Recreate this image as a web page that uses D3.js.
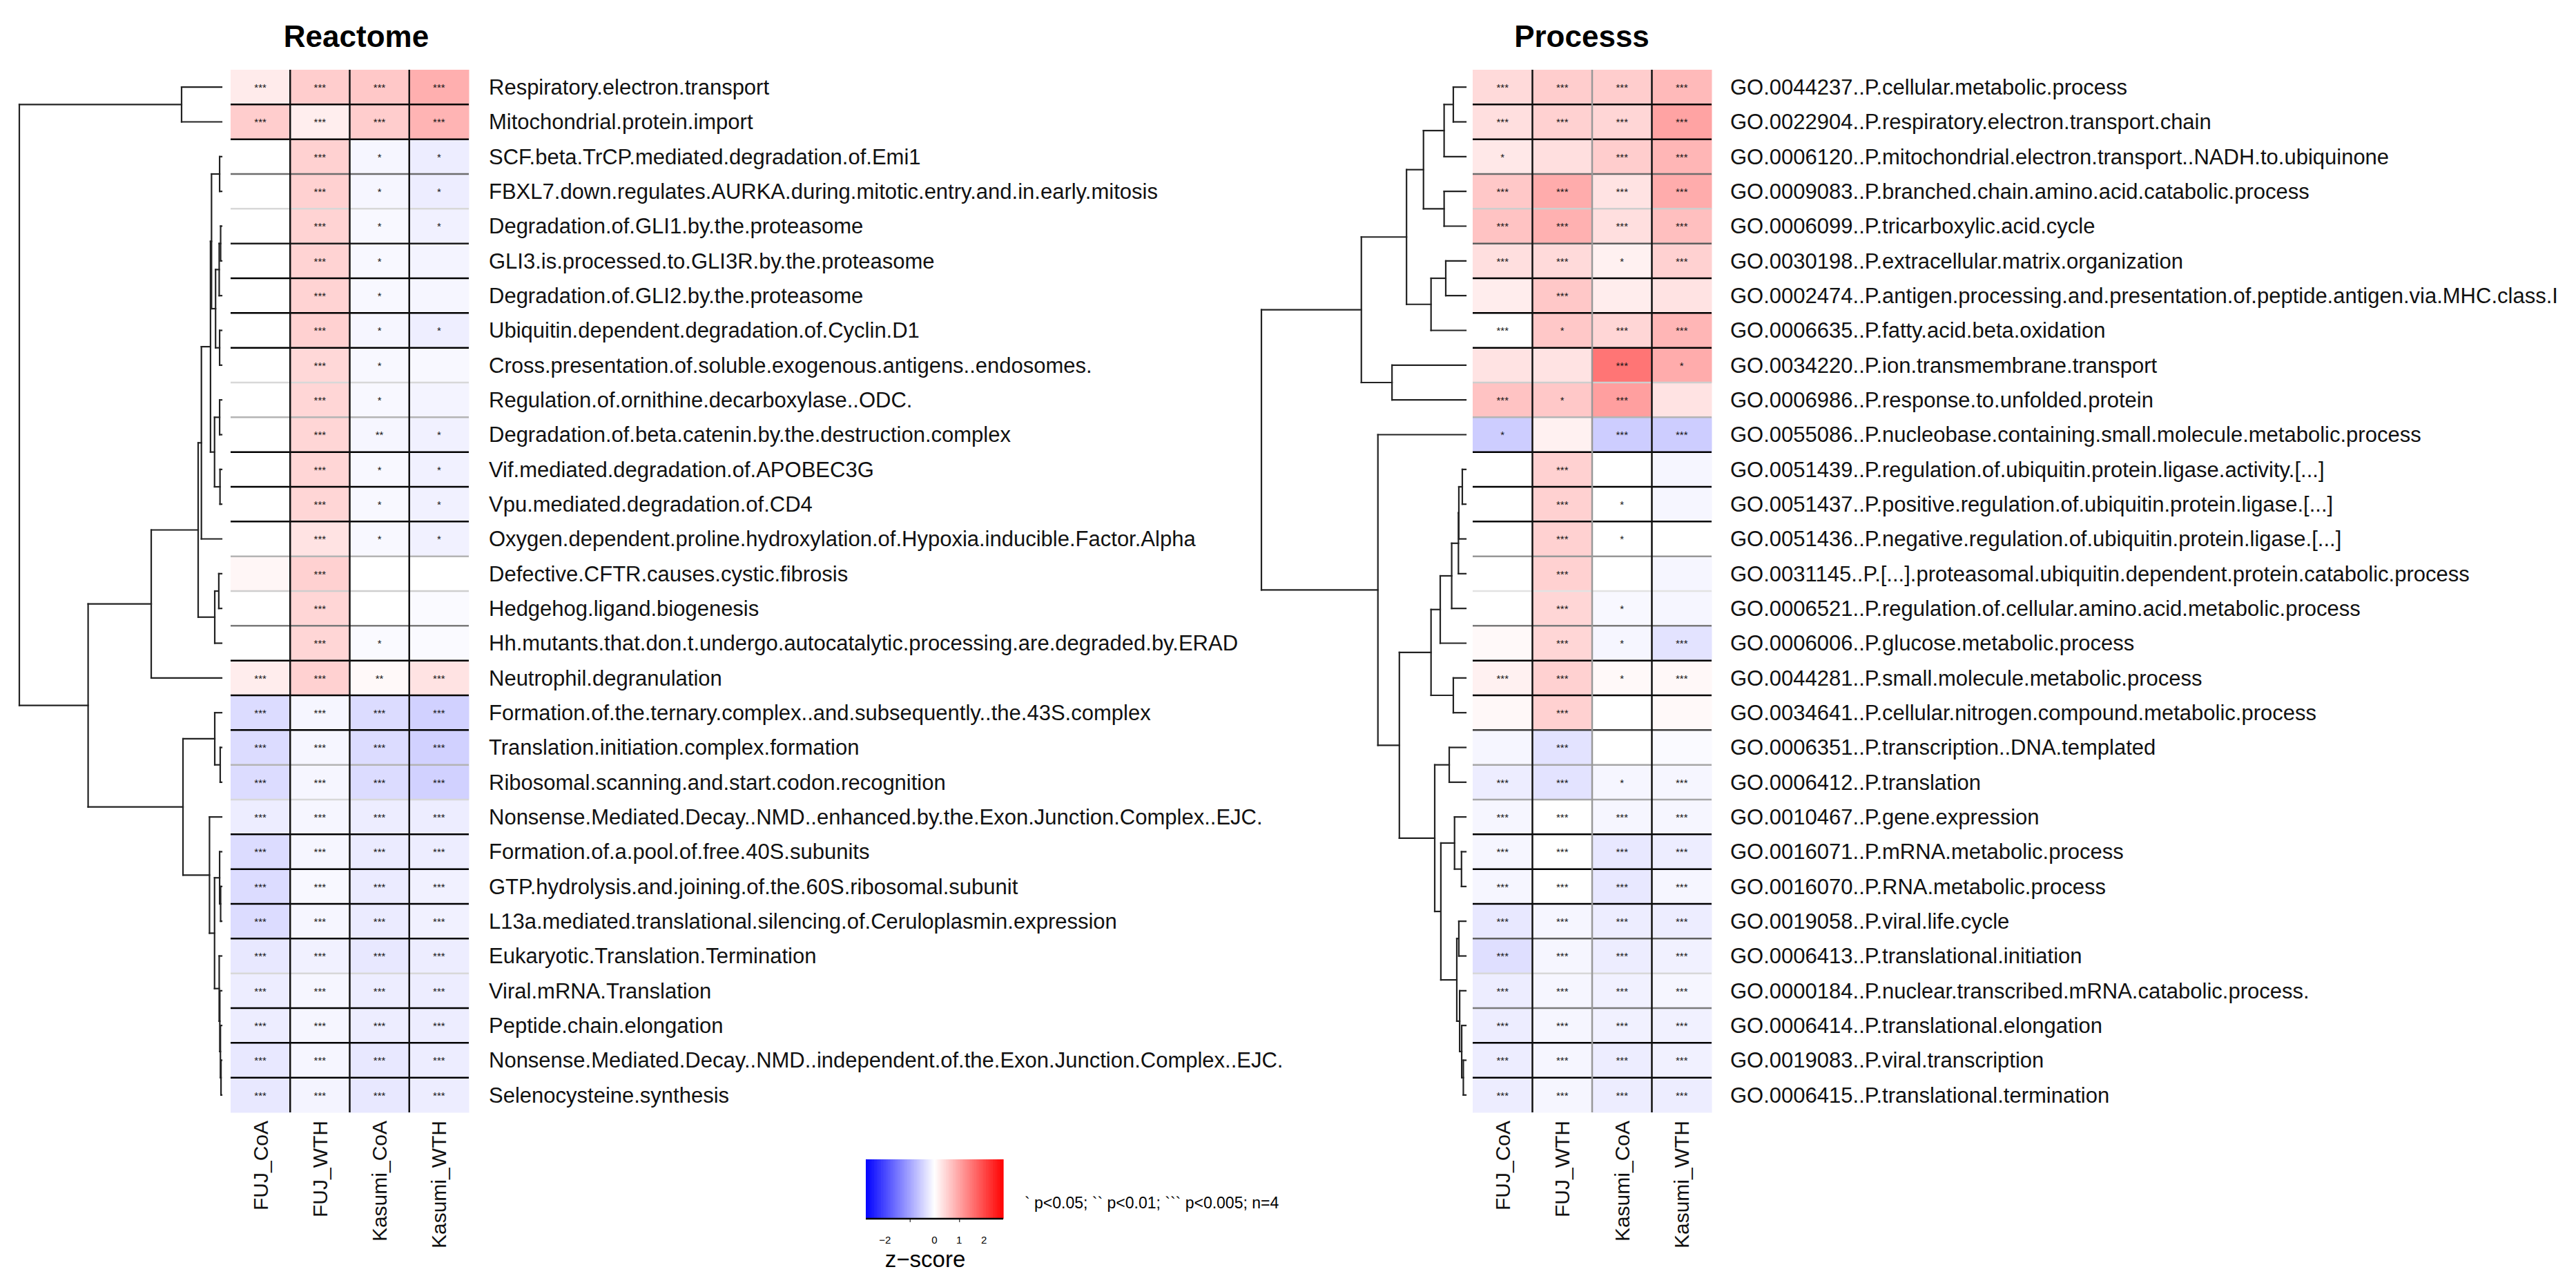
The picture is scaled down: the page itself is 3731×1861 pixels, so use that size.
<!DOCTYPE html>
<html>
<head>
<meta charset="utf-8">
<script src="https://cdn.jsdelivr.net/npm/d3@7"></script>
<style>
  body { margin: 0; background: #fff; }
  text { font-family: "Liberation Sans", Arial, sans-serif; }
</style>
</head>
<body>
<div id="chart"></div>
<script>
var samples = ["FUJ_CoA", "FUJ_WTH", "Kasumi_CoA", "Kasumi_WTH"];

var reactomeTerms = [
  "Respiratory.electron.transport",
  "Mitochondrial.protein.import",
  "SCF.beta.TrCP.mediated.degradation.of.Emi1",
  "FBXL7.down.regulates.AURKA.during.mitotic.entry.and.in.early.mitosis",
  "Degradation.of.GLI1.by.the.proteasome",
  "GLI3.is.processed.to.GLI3R.by.the.proteasome",
  "Degradation.of.GLI2.by.the.proteasome",
  "Ubiquitin.dependent.degradation.of.Cyclin.D1",
  "Cross.presentation.of.soluble.exogenous.antigens..endosomes.",
  "Regulation.of.ornithine.decarboxylase..ODC.",
  "Degradation.of.beta.catenin.by.the.destruction.complex",
  "Vif.mediated.degradation.of.APOBEC3G",
  "Vpu.mediated.degradation.of.CD4",
  "Oxygen.dependent.proline.hydroxylation.of.Hypoxia.inducible.Factor.Alpha",
  "Defective.CFTR.causes.cystic.fibrosis",
  "Hedgehog.ligand.biogenesis",
  "Hh.mutants.that.don.t.undergo.autocatalytic.processing.are.degraded.by.ERAD",
  "Neutrophil.degranulation",
  "Formation.of.the.ternary.complex..and.subsequently..the.43S.complex",
  "Translation.initiation.complex.formation",
  "Ribosomal.scanning.and.start.codon.recognition",
  "Nonsense.Mediated.Decay..NMD..enhanced.by.the.Exon.Junction.Complex..EJC.",
  "Formation.of.a.pool.of.free.40S.subunits",
  "GTP.hydrolysis.and.joining.of.the.60S.ribosomal.subunit",
  "L13a.mediated.translational.silencing.of.Ceruloplasmin.expression",
  "Eukaryotic.Translation.Termination",
  "Viral.mRNA.Translation",
  "Peptide.chain.elongation",
  "Nonsense.Mediated.Decay..NMD..independent.of.the.Exon.Junction.Complex..EJC.",
  "Selenocysteine.synthesis"
];

// z-scores, one row per term, columns in the order of samples
var reactomeZ = [
  [0.22, 0.55, 0.6, 0.87], [0.55, 0.19, 0.55, 0.82],
  [0, 0.5, -0.1, -0.2], [0, 0.5, -0.1, -0.2], [0, 0.48, -0.08, -0.15],
  [0, 0.48, -0.08, -0.12], [0, 0.48, -0.08, -0.1], [0, 0.5, -0.1, -0.18],
  [0, 0.42, -0.08, -0.08], [0, 0.45, -0.08, -0.12], [0, 0.45, -0.1, -0.15],
  [0, 0.45, -0.08, -0.15], [0, 0.45, -0.08, -0.15], [0, 0.3, -0.08, -0.15],
  [0.1, 0.5, 0, 0], [0, 0.45, 0, -0.05], [0, 0.45, -0.05, -0.05],
  [0.2, 0.5, 0.07, 0.3],
  [-0.38, -0.1, -0.38, -0.5], [-0.38, -0.1, -0.38, -0.5], [-0.38, -0.1, -0.38, -0.5],
  [-0.2, -0.1, -0.2, -0.2], [-0.38, -0.1, -0.22, -0.2], [-0.38, -0.08, -0.22, -0.15],
  [-0.38, -0.1, -0.22, -0.15], [-0.25, -0.15, -0.25, -0.2], [-0.2, -0.1, -0.2, -0.2],
  [-0.2, -0.1, -0.2, -0.2], [-0.25, -0.1, -0.25, -0.2], [-0.25, -0.12, -0.25, -0.2]
];

// number of significance marks per cell
var reactomeStars = [
  [3,3,3,3],[3,3,3,3],[0,3,1,1],[0,3,1,1],[0,3,1,1],[0,3,1,0],[0,3,1,0],[0,3,1,1],
  [0,3,1,0],[0,3,1,0],[0,3,2,1],[0,3,1,1],[0,3,1,1],[0,3,1,1],[0,3,0,0],[0,3,0,0],
  [0,3,1,0],[3,3,2,3],[3,3,3,3],[3,3,3,3],[3,3,3,3],[3,3,3,3],[3,3,3,3],[3,3,3,3],
  [3,3,3,3],[3,3,3,3],[3,3,3,3],[3,3,3,3],[3,3,3,3],[3,3,3,3]
];

// row dendrograms: [left, right, height]; plain numbers are row indices
var reactomeMito = [0, 1, 1.98];
var reactomeProteasome = [
  [[[2, 3, 0.1], [[[4, 5, 0.05], 6, 0.12], [7, 8, 0.1], 0.3], 0.5],
   [[9, 10, 0.1], [11, 12, 0.08], 0.35], 0.55],
  13, 1.0
];
var reactomeHedgehog = [[14, 15, 0.14], 16, 0.34];
var reactomeTranslation = [
  [18, [19, 20, 0.07], 0.34],
  [21, [[22, [23, 24, 0.05], 0.1], [25, [26, [27, [28, 29, 0.03], 0.06], 0.09], 0.12], 0.35], 0.6],
  1.91
];
var reactomeTree = [
  reactomeMito,
  [[[reactomeProteasome, reactomeHedgehog, 1.16], 17, 3.48], reactomeTranslation, 6.6],
  10
];

var processTerms = [
  "GO.0044237..P.cellular.metabolic.process",
  "GO.0022904..P.respiratory.electron.transport.chain",
  "GO.0006120..P.mitochondrial.electron.transport..NADH.to.ubiquinone",
  "GO.0009083..P.branched.chain.amino.acid.catabolic.process",
  "GO.0006099..P.tricarboxylic.acid.cycle",
  "GO.0030198..P.extracellular.matrix.organization",
  "GO.0002474..P.antigen.processing.and.presentation.of.peptide.antigen.via.MHC.class.I",
  "GO.0006635..P.fatty.acid.beta.oxidation",
  "GO.0034220..P.ion.transmembrane.transport",
  "GO.0006986..P.response.to.unfolded.protein",
  "GO.0055086..P.nucleobase.containing.small.molecule.metabolic.process",
  "GO.0051439..P.regulation.of.ubiquitin.protein.ligase.activity.[...]",
  "GO.0051437..P.positive.regulation.of.ubiquitin.protein.ligase.[...]",
  "GO.0051436..P.negative.regulation.of.ubiquitin.protein.ligase.[...]",
  "GO.0031145..P.[...].proteasomal.ubiquitin.dependent.protein.catabolic.process",
  "GO.0006521..P.regulation.of.cellular.amino.acid.metabolic.process",
  "GO.0006006..P.glucose.metabolic.process",
  "GO.0044281..P.small.molecule.metabolic.process",
  "GO.0034641..P.cellular.nitrogen.compound.metabolic.process",
  "GO.0006351..P.transcription..DNA.templated",
  "GO.0006412..P.translation",
  "GO.0010467..P.gene.expression",
  "GO.0016071..P.mRNA.metabolic.process",
  "GO.0016070..P.RNA.metabolic.process",
  "GO.0019058..P.viral.life.cycle",
  "GO.0006413..P.translational.initiation",
  "GO.0000184..P.nuclear.transcribed.mRNA.catabolic.process.",
  "GO.0006414..P.translational.elongation",
  "GO.0019083..P.viral.transcription",
  "GO.0006415..P.translational.termination"
];

var processZ = [
  [0.4, 0.55, 0.55, 0.75], [0.35, 0.5, 0.45, 1.0], [0.25, 0.35, 0.55, 0.8],
  [0.6, 0.9, 0.3, 0.9], [0.65, 0.85, 0.35, 0.7], [0.35, 0.4, 0.15, 0.5],
  [0.2, 0.6, 0.2, 0.3], [0.0, 0.6, 0.45, 0.8], [0.3, 0.3, 1.5, 0.9],
  [0.65, 0.6, 1.05, 0.3], [-0.55, 0.15, -0.55, -0.55],
  [0, 0.5, 0, -0.1], [0, 0.5, 0, -0.1], [0, 0.5, 0, 0], [0, 0.5, 0, -0.1],
  [0, 0.45, -0.08, -0.1], [0.07, 0.45, -0.1, -0.3], [0.15, 0.5, 0.07, 0.08],
  [0.08, 0.5, 0, 0.07], [-0.1, -0.3, 0, -0.05], [-0.2, -0.3, -0.1, -0.1],
  [-0.1, 0, -0.1, -0.1], [-0.1, 0, -0.25, -0.2], [-0.1, 0, -0.25, -0.1],
  [-0.25, -0.1, -0.2, -0.2], [-0.35, -0.1, -0.2, -0.15], [-0.2, -0.1, -0.15, -0.1],
  [-0.2, -0.1, -0.15, -0.15], [-0.2, -0.1, -0.2, -0.15], [-0.2, -0.1, -0.2, -0.2]
];

var processStars = [
  [3,3,3,3],[3,3,3,3],[1,0,3,3],[3,3,3,3],[3,3,3,3],[3,3,1,3],[0,3,0,0],[3,1,3,3],
  [0,0,3,1],[3,1,3,0],[1,0,3,3],[0,3,0,0],[0,3,1,0],[0,3,1,0],[0,3,0,0],[0,3,1,0],
  [0,3,1,3],[3,3,1,3],[0,3,0,0],[0,3,0,0],[3,3,1,3],[3,3,3,3],[3,3,3,3],[3,3,3,3],
  [3,3,3,3],[3,3,3,3],[3,3,3,3],[3,3,3,3],[3,3,3,3],[3,3,3,3]
];

var processMetabolic = [
  [[[[0, 1, 0.61], 2, 1.06], [3, 4, 1.06], 2.07], [[5, 6, 0.98], 7, 1.7], 2.9],
  [8, 9, 3.61],
  5.11
];
var processUbiquitin = [
  [[[[[11, 12, 0.17], 13, 0.34], 14, 0.36], 15, 0.69], 16, 1.25],
  [17, 18, 0.61],
  1.7
];
var processTranslation = [
  [19, 20, 0.81],
  [[21, [22, 23, 0.21], 0.55], [[24, 25, 0.34], [26, [27, [28, 29, 0.12], 0.2], 0.3], 0.44], 1.22],
  1.52
];
var processTree = [
  processMetabolic,
  [10, [processUbiquitin, processTranslation, 3.25], 4.3],
  10
];

// grey level of the rule under each row (0 = black)
var reactomeRules = [0,0,.35,.75,.1,0,0,0,.75,.6,0,0,0,.6,.7,.4,0,0,0,.6,.75,0,0,0,0,.75,0,0,0];
var processRules = [0,0,.35,.7,.3,0,0,0,.7,.6,0,0,0,.5,.8,.4,0,0,.2,.55,.55,0,0,0,.3,.75,.4,0,0];

var zTicks = [-2, 0, 1, 2];
var zTickMarks = [-1, 1];
var zLimit = 2.78;
var starNote = "` p<0.05; `` p<0.01; ``` p<0.005; n=4";

var W = 3731, H = 1861;
var svg = d3.select("#chart").append("svg").attr("width", W).attr("height", H);
svg.append("rect").attr("width", W).attr("height", H).attr("fill", "#fff");

var color = d3.scaleLinear()
    .domain([-zLimit, 0, zLimit])
    .range(["#0000ff", "#ffffff", "#ff0000"])
    .clamp(true);

var y = d3.scaleBand().domain(d3.range(30)).range([101, 1611]);

function drawPanel(p) {
  var g = svg.append("g");
  var x = d3.scaleBand().domain(samples).range(p.heat);

  g.append("text")
      .attr("x", p.titleX).attr("y", 68)
      .attr("text-anchor", "middle")
      .attr("font-size", 44).attr("font-weight", "bold")
      .text(p.title);

  var rows = g.append("g").selectAll("g")
    .data(p.z)
    .enter().append("g")
      .attr("transform", function(d, i) { return "translate(0," + y(i) + ")"; });

  rows.selectAll("rect")
    .data(function(d) { return d; })
    .enter().append("rect")
      .attr("x", function(d, j) { return x(samples[j]); })
      .attr("width", x.bandwidth() + 0.5)
      .attr("height", y.bandwidth() + 0.5)
      .attr("fill", function(d) { return color(d); });

  rows.selectAll("text.star")
    .data(function(d, i) { return p.stars[i]; })
    .enter().append("text")
      .attr("class", "star")
      .attr("x", function(d, j) { return x(samples[j]) + x.bandwidth() / 2; })
      .attr("y", y.bandwidth() / 2 + 6)
      .attr("text-anchor", "middle")
      .attr("font-size", 15)
      .attr("fill", "#111")
      .text(function(d) { return "*".repeat(d); });

  // rules between rows
  g.append("g").selectAll("line")
    .data(p.rules)
    .enter().append("line")
      .attr("x1", p.heat[0]).attr("x2", p.heat[1])
      .attr("y1", function(d, i) { return y(i + 1); })
      .attr("y2", function(d, i) { return y(i + 1); })
      .attr("stroke", function(d) { return d3.interpolateGreys(1 - d); })
      .attr("stroke-width", 2.5);

  // rules between columns
  g.append("g").selectAll("line")
    .data(samples.slice(1))
    .enter().append("line")
      .attr("x1", function(d) { return x(d); })
      .attr("x2", function(d) { return x(d); })
      .attr("y1", y.range()[0]).attr("y2", y.range()[1])
      .attr("stroke", function(d, i) { return p.colRule[i]; })
      .attr("stroke-width", 2.5);

  g.append("g").selectAll("text")
    .data(p.terms)
    .enter().append("text")
      .attr("x", p.labelX)
      .attr("y", function(d, i) { return y(i) + y.bandwidth() / 2; })
      .attr("dy", "0.35em")
      .attr("font-size", 31)
      .attr("fill", "#111")
      .text(function(d) { return d; });

  g.append("g").selectAll("text")
    .data(samples)
    .enter().append("text")
      .attr("transform", function(d) {
        return "translate(" + (x(d) + x.bandwidth() / 2) + "," + (y.range()[1] + 12) + ") rotate(-90)";
      })
      .attr("dy", "0.35em")
      .attr("text-anchor", "end")
      .attr("font-size", 30)
      .attr("fill", "#111")
      .text(function(d) { return d; });

  // dendrogram
  var xd = d3.scaleLinear().domain([0, 10]).range(p.dendro);
  var root = d3.hierarchy(p.tree, function(d) { return Array.isArray(d) ? d.slice(0, 2) : null; });
  root.eachAfter(function(n) {
    if (n.children) {
      n.h = n.data[2];
      n.yy = d3.mean(n.children, function(c) { return c.yy; });
    } else {
      n.h = 0;
      n.yy = y(n.data) + y.bandwidth() / 2;
    }
  });
  var links = [];
  root.each(function(n) {
    if (!n.children) return;
    links.push([[xd(n.h), n.children[0].yy], [xd(n.h), n.children[1].yy]]);
    n.children.forEach(function(c) { links.push([[xd(n.h), c.yy], [xd(c.h), c.yy]]); });
  });
  g.append("g").selectAll("path")
    .data(links)
    .enter().append("path")
      .attr("d", d3.line())
      .attr("fill", "none")
      .attr("stroke", "#222")
      .attr("stroke-width", 2.2)
      .attr("stroke-linecap", "square");
}

drawPanel({
  title: "Reactome", titleX: 516, heat: [334, 679], labelX: 708, dendro: [321, 28],
  terms: reactomeTerms, z: reactomeZ, stars: reactomeStars, tree: reactomeTree,
  rules: reactomeRules, colRule: ["#111", "#111", "#111"]
});

drawPanel({
  title: "Processs", titleX: 2291, heat: [2133, 2479], labelX: 2506, dendro: [2123, 1827],
  terms: processTerms, z: processZ, stars: processStars, tree: processTree,
  rules: processRules, colRule: ["#111", "#999", "#111"]
});

// colour key
var kx = d3.scaleLinear().domain([-zLimit, zLimit]).range([1254, 1453]);
var key = svg.append("g");
key.selectAll("rect")
  .data(d3.range(-zLimit, zLimit, 0.02))
  .enter().append("rect")
    .attr("x", function(d) { return kx(d); })
    .attr("y", 1679)
    .attr("width", kx(0.02) - kx(0) + 0.6)
    .attr("height", 86)
    .attr("fill", function(d) { return color(d + 0.01); });

key.append("g")
    .attr("transform", "translate(0,1765)")
    .call(d3.axisBottom(kx).tickValues(zTickMarks).tickSize(5).tickFormat(""))
    .call(function(a) { a.select(".domain").attr("stroke-width", 2.5).attr("d", "M" + kx.range()[0] + ",0H" + kx.range()[1]); });

key.selectAll("text.zt")
  .data(zTicks)
  .enter().append("text")
    .attr("class", "zt")
    .attr("x", function(d) { return kx(d); })
    .attr("y", 1801)
    .attr("text-anchor", "middle")
    .attr("font-size", 15)
    .text(function(d) { return d3.format("")(d).replace("-", "\u2212"); });

key.append("text")
    .attr("x", 1340).attr("y", 1835)
    .attr("text-anchor", "middle")
    .attr("font-size", 33)
    .text("z\u2212score");

key.append("text")
    .attr("x", 1484).attr("y", 1750)
    .attr("font-size", 23)
    .text(starNote);
</script>
</body>
</html>
